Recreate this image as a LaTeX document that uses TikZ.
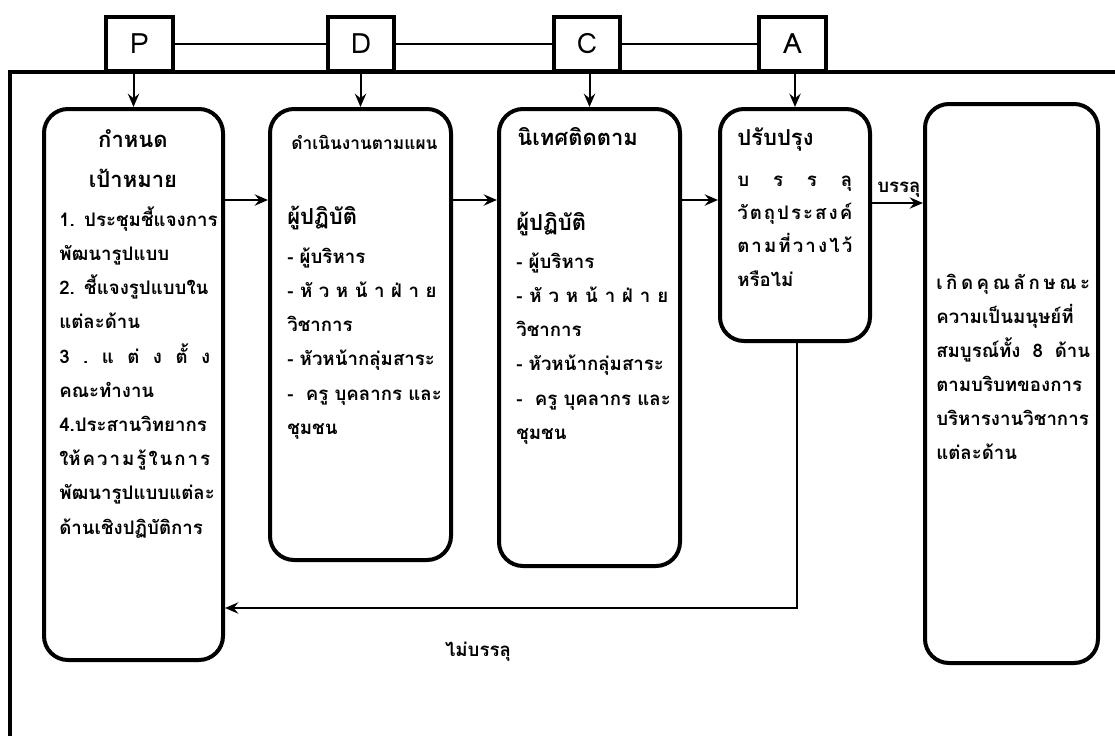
\documentclass[tikz,border=0pt]{standalone}
\usepackage{fontspec}
\newfontfamily\thai[Script=Thai]{Loma}
\usetikzlibrary{arrows.meta}
\newcommand\topstrut{\rule{0pt}{15pt}}
\begin{document}
\begin{tikzpicture}[x=0.75pt,y=-0.75pt,
  frameline/.style={line width=3pt},
  pdca/.style={draw, fill=white, line width=3pt, minimum width=50pt, minimum height=40.5pt, inner sep=0pt, font=\thai\fontsize{21}{21}\selectfont},
  stage/.style={draw, line width=3pt, rounded corners=18pt, inner sep=0pt},
  link/.style={line width=1.5pt},
  arr/.style={line width=1.5pt, -{Stealth[length=10pt,width=8.5pt,inset=3.5pt]}},
  title/.style={font=\thai\bfseries\fontsize{16.5}{20}\selectfont, inner sep=0pt},
  body/.style={font=\thai\bfseries\fontsize{14}{25.65}\selectfont, align=left, inner sep=0pt, anchor=north west},
  lbl/.style={font=\thai\bfseries\fontsize{14}{16}\selectfont, inner sep=0pt}
]
\useasboundingbox (0,0) rectangle (1115,736);
% outer frame
\coordinate (fbl) at (10,736);
\coordinate (ftl) at (10,72);
\coordinate (ftr) at (1115,72);
\draw[frameline] (fbl) -- (ftl) -- (ftr);
% PDCA boxes
\node[pdca] (p) at (139.5,44) {P};
\node[pdca] (d) at (361,44) {D};
\node[pdca] (c) at (587,44) {C};
\node[pdca] (a) at (792.5,44) {A};
\draw[link] (p.east) -- (d.west);
\draw[link] (d.east) -- (c.west);
\draw[link] (c.east) -- (a.west);
% stage boxes
\node[stage, minimum width=134.25pt, minimum height=413.25pt] (b1) at (133.5,384.5) {};
\node[stage, minimum width=135.75pt, minimum height=338.25pt] (b2) at (360.5,334.5) {};
\node[stage, minimum width=135.75pt, minimum height=342.75pt] (b3) at (589.5,337.5) {};
\node[stage, minimum width=112.5pt, minimum height=174pt] (b4) at (795,225) {};
\node[stage, minimum width=129.75pt, minimum height=419.25pt] (b5) at (1011.5,383.5) {};
% arrows from PDCA
\draw[arr] (b1.north |- p.south) -- (b1.north);
\draw[arr] (b2.north |- d.south) -- (b2.north);
\draw[arr] (b3.north |- c.south) -- (b3.north);
\draw[arr] (b4.north |- a.south) -- (b4.north);
% horizontal arrows
\draw[arr] (b1.east |- 0,200) -- (b2.west |- 0,200);
\draw[arr] (b2.east |- 0,200) -- (b3.west |- 0,200);
\draw[arr] (b3.east |- 0,200) -- (b4.west |- 0,200);
\draw[arr] (b4.east |- 0,203) -- (b5.west |- 0,203);
% feedback
\coordinate (fb) at (797,608);
\draw[arr] (b4.south -| fb) -- (fb) -- (b1.east |- fb);
% labels
\node[lbl, anchor=base west] (ok) at (877,192) {บรรลุ};
\node[lbl, anchor=base] (nok) at (478,656) {ไม่บรรลุ};
% box 1 text
\node[title, anchor=base] (t1a) at (133,147) {กำหนด};
\node[title, anchor=base] (t1b) at (133,187) {เป้าหมาย};
\node[body, text width=113.25pt] (x1) at (59,206) {\topstrut \mbox{1. ประชุมชี้แจงการ}\\
พัฒนารูปแบบ\\
\mbox{2. ชี้แจงรูปแบบใน}\\
แต่ละด้าน\\
3\hfill .\hfill แ\hfill ต่\hfill ง\hfill ตั้\hfill ง\\
คณะทำงาน\\
4.ประสานวิทยากร\\
ให้\hfill ค\hfill ว\hfill า\hfill ม\hfill รู้\hfill ใ\hfill น\hfill ก\hfill า\hfill ร\\
พัฒนารูปแบบแต่ละ\\
ด้านเชิงปฏิบัติการ};
% box 2 text
\node[lbl, anchor=base west, font=\thai\bfseries\fontsize{13}{16}\selectfont] (t2a) at (291,149) {ดำเนินงานตามแผน};
\node[title, anchor=base west] (t2b) at (287,224) {ผู้ปฏิบัติ};
\node[body, text width=112pt] (x2) at (287,243) {\topstrut \mbox{- ผู้บริหาร}\\
-\hfill หั\hfill ว\hfill ห\hfill น้\hfill า\hfill ฝ่\hfill า\hfill ย\\
วิชาการ\\
\mbox{- หัวหน้ากลุ่มสาระ}\\
\mbox{-\ \ ครู บุคลากร และ}\\
ชุมชน};
% box 3 text
\node[title, anchor=base west] (t3a) at (517,145) {นิเทศติดตาม};
\node[title, anchor=base west] (t3b) at (516,230) {ผู้ปฏิบัติ};
\node[body, text width=114pt] (x3) at (516,248) {\topstrut \mbox{- ผู้บริหาร}\\
-\hfill หั\hfill ว\hfill ห\hfill น้\hfill า\hfill ฝ่\hfill า\hfill ย\\
วิชาการ\\
\mbox{- หัวหน้ากลุ่มสาระ}\\
\mbox{-\ \ ครู บุคลากร และ}\\
ชุมชน};
% box 4 text
\node[title, anchor=base west] (t4a) at (737,145) {ปรับปรุง};
\node[body, text width=86.25pt, font=\thai\bfseries\fontsize{14}{25}\selectfont] (x4) at (737,166) {\topstrut บ\hfill ร\hfill ร\hfill ลุ\\
วั\hfill ต\hfill ถุ\hfill ป\hfill ร\hfill ะ\hfill ส\hfill ง\hfill ค์\\
ต\hfill า\hfill ม\hfill ที่\hfill ว\hfill า\hfill ง\hfill ไ\hfill ว้\\
หรือไม่};
% box 5 text
\node[body, text width=115.5pt, font=\thai\bfseries\fontsize{14}{25.5}\selectfont] (x5) at (936,269) {\topstrut เ\hfill กิ\hfill ด\hfill คุ\hfill ณ\hfill ลั\hfill ก\hfill ษ\hfill ณ\hfill ะ\\
ความเป็นมนุษย์ที่\\
สมบูรณ์ทั้ง\hfill 8\hfill ด้าน\\
ตามบริบทของการ\\
บริหารงานวิชาการ\\
แต่ละด้าน};
\end{tikzpicture}
\end{document}
